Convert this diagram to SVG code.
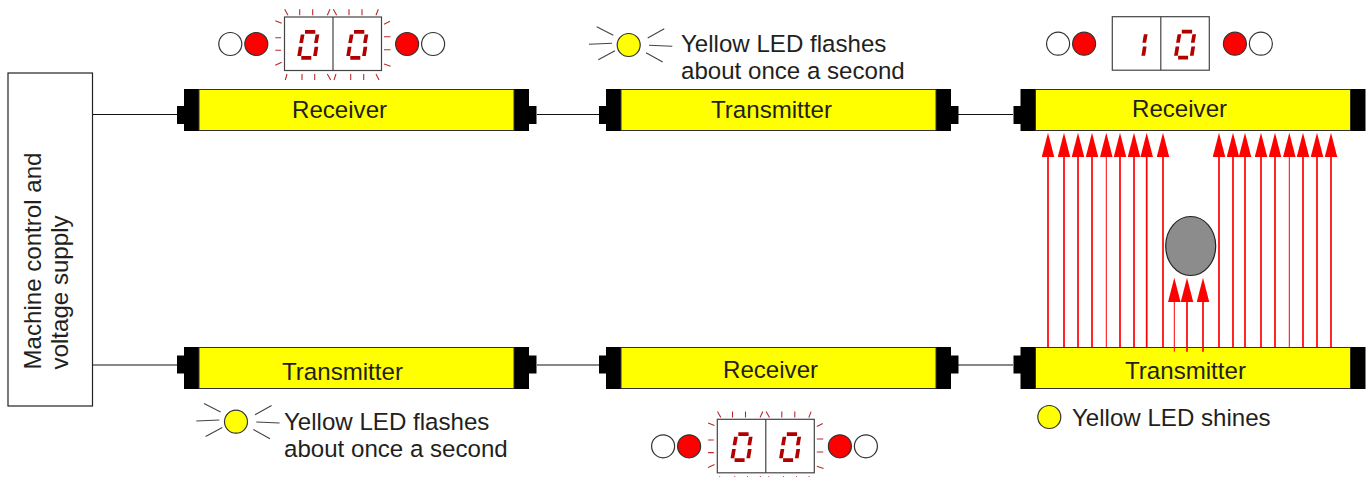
<svg xmlns="http://www.w3.org/2000/svg" xmlns:xlink="http://www.w3.org/1999/xlink" width="1369" height="477" viewBox="0 0 1369 477">
<style>
text{font-family:"Liberation Sans",Arial,sans-serif;font-size:24.1px;fill:#231f20}
.k{fill:#000}
.y{fill:#ff0;stroke:#333;stroke-width:1}
.w{fill:none;stroke:#222;stroke-width:1.2}
.c{fill:none;stroke:#111;stroke-width:1.1}
.off{fill:#fff;stroke:#333;stroke-width:1.2}
.on{fill:#f00;stroke:#333;stroke-width:1.2}
.led{fill:#ff0;stroke:#333;stroke-width:1.2}
.s{fill:#b00000}
.ray{fill:none;stroke:#b8292f;stroke-width:1.1}
.ly{fill:none;stroke:#444;stroke-width:1.1}
.frame{fill:#fff;stroke:#444;stroke-width:1.2}
.beam{fill:none;stroke:#f00;stroke-width:1.7;marker-end:url(#head)}
.thin{stroke-width:1}
</style>
<defs>
<marker id="head" markerUnits="userSpaceOnUse" markerWidth="25" markerHeight="13" refX="0.5" refY="6.5" orient="auto" viewBox="0 0 25 13">
<path d="M0 0.2L24.5 6.5L0 12.8Z" fill="#f00"/>
</marker>
<g id="body">
<rect class="k" x="0" y="0" width="15" height="42"/>
<rect class="k" x="330" y="0" width="15" height="42"/>
<rect class="y" x="15" y="0.5" width="315" height="41"/>
</g>
<rect id="stub" class="k" width="7.5" height="18"/>
<g id="digit0">
<path class="s" d="M0 0H10.3V3.7H0ZM-4.2 4.5H-0.5L-2 13H-5.7ZM10.6 4.5H14.3L12.8 13H9.1ZM-6.2 16.7H-2.5L-4 26H-7.7ZM9.6 16.7H13.3L11.8 26H8.1ZM-3.7 26H6.3V29.7H-3.7Z"/>
</g>
<g id="digit1">
<path class="s" d="M10.6 4.5H14.3L12.8 13H9.1ZM9.6 16.7H13.3L11.8 26H8.1Z"/>
</g>
<g id="display">
<circle class="off" cx="-54.2" cy="27" r="11.5"/>
<circle class="on" cx="-28.2" cy="27" r="11.5"/>
<circle class="on" cx="122.6" cy="27" r="11.5"/>
<circle class="off" cx="148.6" cy="27" r="11.5"/>
<rect class="frame" x="0" y="0" width="97" height="53.5"/>
<path class="frame" d="M48.5 0V53.5"/>
</g>
<path id="rays" class="ray" d="M0.2-7.7L3.5-1.7M15.2-7.7V-1.7M28.2-7.7V-1.7M45.5-7.7L42.8-1.7M48.8-7.7L52.2-1.7M64.5-7.7V-1.7M77.5-7.7V-1.7M93.8-7.7L91.5-1.7M-9.2 3.7L-2.8 6.3M-9.2 20.7H-3.5M-9.2 33.3H-3.5M-9.2 48.3L-2.8 45.3M99.5 7.3L105.5 4.3M99.5 19.7H106M99.5 32.7H106M99.5 47L106.2 49.3M2.5 57L0.8 63M17.5 57V63M30.2 57V63M42.8 57L46.2 63M51.5 57L49.5 63M66.2 57V63M79.2 57V63M91.5 57L94.5 63"/>
<g id="flash">
<circle class="led" cx="0" cy="0" r="11.5"/>
<path class="ly" d="M-32-18.3L-15.4-9.7M-39.7-0.7L-16.7-1.7M-30.4 14.7L-13.7 5.7M19-7L35.6-16.3M20.3 0.3L43.6 1.3M17.3 7.7L34 17"/>
</g>
</defs>

<g id="connectors">
<path class="c" d="M92 114.5H177M537 114.5H599M958 114.5H1013M92 365H177M537 365H599M958 365H1013"/>
<path class="beam" d="M1048 348V156.7"/>
<path class="beam" d="M1064 348V156.7"/>
<path class="beam" d="M1078 348V156.7"/>
<path class="beam" d="M1092 348V156.7"/>
<path class="beam thin" d="M1106.3 348V156.7"/>
<path class="beam" d="M1120 348V156.7"/>
<path class="beam" d="M1134 348V156.7"/>
<path class="beam" d="M1146.7 348V156.7"/>
<path class="beam" d="M1163 348V156.7"/>
<path class="beam" d="M1219 348V156.7"/>
<path class="beam" d="M1233 348V156.7"/>
<path class="beam" d="M1245 348V156.7"/>
<path class="beam" d="M1261 348V156.7"/>
<path class="beam" d="M1275 348V156.7"/>
<path class="beam thin" d="M1289.3 348V156.7"/>
<path class="beam" d="M1303 348V156.7"/>
<path class="beam" d="M1317 348V156.7"/>
<path class="beam" d="M1331 348V156.7"/>
</g>

<g id="machine-control">
<rect class="w" x="8" y="73" width="84.5" height="333"/>
<text transform="translate(41 369.5) rotate(-90)">Machine control and</text>
<text transform="translate(68 369.5) rotate(-90)">voltage supply</text>
</g>

<g id="receiver-top-left">
<use href="#stub" x="177" y="106"/><use href="#stub" x="529" y="106"/>
<use href="#body" x="184" y="89"/>
<text x="292" y="118">Receiver</text>
</g>
<g id="transmitter-top-middle">
<use href="#stub" x="599" y="106"/><use href="#stub" x="951" y="106"/>
<use href="#body" x="606" y="89"/>
<text x="711" y="118">Transmitter</text>
</g>
<g id="receiver-top-right">
<use href="#stub" x="1013.5" y="106"/>
<use href="#body" x="1020.5" y="89"/>
<text x="1132" y="117">Receiver</text>
</g>
<g id="transmitter-bottom-left">
<use href="#stub" x="177" y="355.5"/><use href="#stub" x="529" y="355.5"/>
<use href="#body" x="184" y="347"/>
<text x="282" y="380">Transmitter</text>
</g>
<g id="receiver-bottom-middle">
<use href="#stub" x="599" y="355.5"/><use href="#stub" x="951" y="355.5"/>
<use href="#body" x="606" y="347"/>
<text x="723" y="378">Receiver</text>
</g>
<g id="transmitter-bottom-right">
<use href="#stub" x="1013.5" y="355.5"/>
<use href="#body" x="1020.5" y="347"/>
<text x="1125" y="378.5">Transmitter</text>
</g>

<g id="short-beams">
<path class="beam thin" d="M1174.3 351.7V301.7"/>
<path class="beam" d="M1187 351.7V301.7"/>
<path class="beam" d="M1203 351.7V301.7"/>
</g>

<g id="obstacle">
<ellipse cx="1190.7" cy="246" rx="25" ry="29.5" fill="#8c8c8c" stroke="#222" stroke-width="1.2"/>
</g>

<g id="display-top-left" transform="translate(284.5 17)">
<use href="#display"/><use href="#rays"/>
<use href="#digit0" x="20.5" y="13"/><use href="#digit0" x="69.5" y="13"/>
</g>
<g id="display-top-right" transform="translate(1112.3 16.7)">
<use href="#display"/>
<use href="#digit1" x="21" y="13"/><use href="#digit0" x="69.5" y="13"/>
</g>
<g id="display-bottom" transform="translate(717.3 419.3)">
<use href="#display"/><use href="#rays"/>
<use href="#digit0" x="21" y="13"/><use href="#digit0" x="69.5" y="13"/>
</g>

<g id="led-top">
<use href="#flash" x="628.7" y="45"/>
<text x="681" y="52">Yellow LED flashes</text>
<text x="681" y="79">about once a second</text>
</g>
<g id="led-bottom">
<use href="#flash" x="236" y="421.7"/>
<text x="284" y="430">Yellow LED flashes</text>
<text x="284" y="457">about once a second</text>
</g>
<g id="led-shines">
<circle class="led" cx="1049.3" cy="417" r="11.5"/>
<text x="1072" y="425.7">Yellow LED shines</text>
</g>
</svg>
